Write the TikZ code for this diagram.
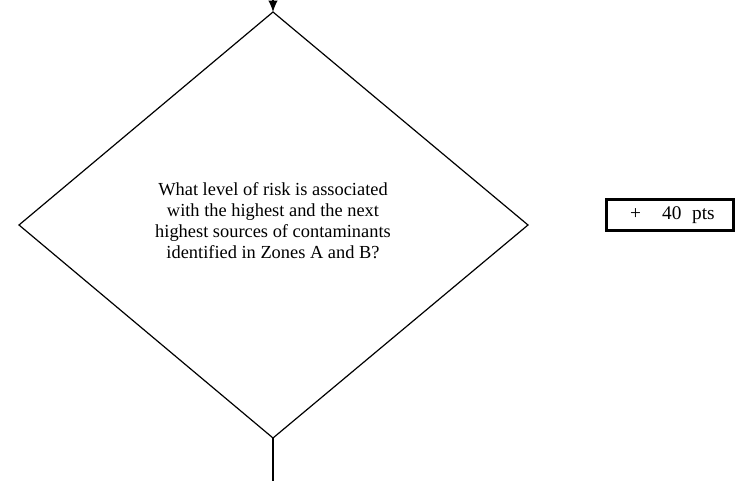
\documentclass[tikz,border=0pt]{standalone}
\usepackage{fontspec}
\setmainfont{Liberation Serif}
\usetikzlibrary{arrows.meta}
\begin{document}
\begin{tikzpicture}[x=0.75pt,y=-0.75pt,
    question/.style={align=center,font=\fontsize{13.8}{15.8}\selectfont},
    points/.style={draw,line width=2.6pt,minimum width=127pt*0.75,minimum height=31pt*0.75,
        inner sep=0pt,font=\fontsize{14.5}{16}\selectfont},
    flow/.style={line width=0.9pt}]
    \useasboundingbox (0,0) rectangle (740,485);
    % diamond corners
    \coordinate (top) at (273,12);
    \coordinate (left) at (19,225);
    \coordinate (right) at (528,225);
    \coordinate (bottom) at (273,438);
    \coordinate (entry) at (273,-1);
    \coordinate (exit) at (273,481);
    \draw[flow] (top) -- (right) -- (bottom) -- (left) -- cycle;
    \node[question] (q) at (273,221) {What level of risk is associated\\with the highest and the next\\highest sources of contaminants\\identified in Zones A and B?};
    \node[points] (pts) at (670,215) {\hspace{0.25em}+\hspace{1.1em}40\hspace{0.55em}pts};
    % connectors
    \draw[flow,-{Latex[length=8.5pt,width=7pt]}] (entry) -- (top);
    \draw[flow] (bottom) -- (exit);
\end{tikzpicture}
\end{document}
